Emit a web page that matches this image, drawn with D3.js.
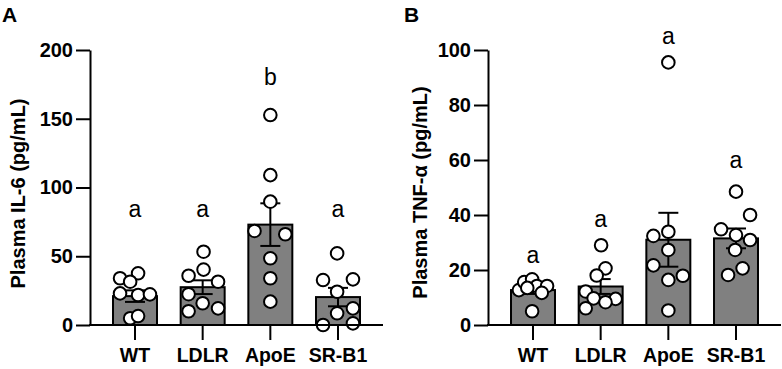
<!DOCTYPE html>
<html>
<head>
<meta charset="utf-8">
<script src="https://cdn.jsdelivr.net/npm/d3@7"></script>
<style>
  html, body { margin: 0; padding: 0; background: #fff; }
  svg { display: block; }
  text { font-family: "Liberation Sans", Arial, Helvetica, sans-serif; }
</style>
</head>
<body>
<script>
// ---------- DATA ----------
const categories = ["WT", "LDLR", "ApoE", "SR-B1"];

// Panel A: Plasma IL-6 (pg/mL)
const il6Means = [21, 27.5, 73, 20.3];
const il6Sem = [4.2, 5, 15.5, 6.7];
const il6Points = [
  [34, 37.6, 31.5, 23, 21.8, 22.3, 4.9, 6.5],
  [53.3, 40.3, 35.8, 31.5, 22.4, 15.8, 10, 12.1],
  [152.7, 109, 89.7, 68.4, 66, 48.5, 34, 17],
  [52.1, 32.7, 33.2, 24.2, 12.1, 8.5, 0, 1.2]
];
// horizontal spread of points, as a fraction of bar width
const il6Jitter = [
  [-0.34, 0.07, -0.11, -0.34, 0.07, 0.34, -0.11, 0.07],
  [0.02, 0.02, -0.32, 0.35, -0.32, 0, -0.32, 0.35],
  [0, 0, 0, -0.36, 0.34, 0, 0, 0],
  [-0.02, -0.34, 0.34, -0.02, 0.34, -0.02, -0.34, 0.34]
];
const il6Letters = ["a", "a", "b", "a"];
const il6LetterLevel = [78.5, 78.5, 174.5, 78.5];
const il6Ticks = [0, 50, 100, 150, 200];

// Panel B: Plasma TNF-α (pg/mL)
const tnfMeans = [12.7, 14, 31, 31.5];
const tnfSem = [1.4, 2.7, 9.8, 3.6];
const tnfPoints = [
  [12.7, 15.6, 16.6, 14.2, 14.2, 11.7, 5, 13.5],
  [29, 20.6, 18, 12.2, 9.7, 9.5, 8.3, 6.1],
  [95.5, 33.9, 32.4, 27.3, 21.7, 17.9, 16.4, 5.3],
  [48.5, 40, 34.8, 32.7, 30.9, 27.3, 20.6, 18.2]
];
const tnfJitter = [
  [-0.32, -0.2, -0.02, 0.09, 0.32, 0.2, -0.02, -0.13],
  [0.01, 0.11, -0.09, -0.34, -0.16, 0.34, 0.11, -0.34],
  [0, 0, -0.34, 0, -0.34, 0.33, 0, 0],
  [0, 0.32, -0.34, 0, 0.32, -0.02, 0.15, -0.18]
];
const tnfLetters = ["a", "a", "a", "a"];
const tnfLetterLevel = [22.5, 35.6, 102.2, 57.1];
const tnfTicks = [0, 20, 40, 60, 80, 100];

// ---------- DRAW ----------
const W = 782, H = 369;
const svg = d3.select("body").append("svg").attr("width", W).attr("height", H);

const BAR_FILL = "#808080";
const LW = 2;

function panel(opts) {
  const g = svg.append("g");
  const x = d3.scaleBand().domain(categories).range([opts.x0, opts.x1])
    .paddingInner(0.35).paddingOuter(0.34);
  const y = d3.scaleLinear().domain([0, opts.ymax]).range([325, 50]);
  const bw = x.bandwidth();

  // bars
  g.selectAll("rect.bar").data(categories).join("rect")
    .attr("x", d => x(d))
    .attr("y", (d, i) => y(opts.means[i]))
    .attr("width", bw)
    .attr("height", (d, i) => y(0) - y(opts.means[i]))
    .attr("fill", BAR_FILL).attr("stroke", "#000").attr("stroke-width", LW);

  // error bars
  const cap = 10;
  categories.forEach((c, i) => {
    const cx = x(c) + bw / 2;
    const lo = opts.means[i] - opts.sem[i], hi = opts.means[i] + opts.sem[i];
    g.append("line").attr("x1", cx).attr("x2", cx).attr("y1", y(lo)).attr("y2", y(hi))
      .attr("stroke", "#000").attr("stroke-width", LW);
    [lo, hi].forEach(v => {
      g.append("line").attr("x1", cx - cap).attr("x2", cx + cap).attr("y1", y(v)).attr("y2", y(v))
        .attr("stroke", "#000").attr("stroke-width", LW);
    });
  });

  // points
  categories.forEach((c, i) => {
    const cx = x(c) + bw / 2;
    g.selectAll(null).data(opts.points[i]).join("circle")
      .attr("cx", (d, j) => cx + opts.jitter[i][j] * bw)
      .attr("cy", d => y(d))
      .attr("r", 6.3)
      .attr("fill", "#fff").attr("stroke", "#000").attr("stroke-width", LW);
  });

  // y axis
  const yAxis = d3.axisLeft(y).tickValues(opts.ticks).tickSize(14).tickPadding(3).tickSizeOuter(0);
  const ya = g.append("g").attr("transform", `translate(${opts.x0},0)`).call(yAxis);
  ya.select(".domain").attr("stroke", "#000").attr("stroke-width", LW);
  ya.selectAll(".tick line").attr("stroke", "#000").attr("stroke-width", LW);
  ya.selectAll(".tick text").attr("font-size", 20).attr("font-weight", "bold")
    .attr("fill", "#000").attr("font-family", "Liberation Sans, Arial, sans-serif");

  // x axis
  const xAxis = d3.axisBottom(x).tickSize(15).tickPadding(8).tickSizeOuter(0);
  const xa = g.append("g").attr("transform", `translate(0,${y(0)})`).call(xAxis);
  xa.select(".domain").attr("stroke", "#000").attr("stroke-width", LW)
    .attr("d", `M${opts.x0 - 1},0H${opts.x1}`);
  xa.selectAll(".tick line").attr("stroke", "#000").attr("stroke-width", LW);
  xa.selectAll(".tick text").attr("font-size", 19.5).attr("font-weight", "bold")
    .attr("fill", "#000").attr("font-family", "Liberation Sans, Arial, sans-serif");

  // significance letters
  g.selectAll("text.sig").data(categories).join("text")
    .attr("class", "sig")
    .attr("x", d => x(d) + bw / 2)
    .attr("y", (d, i) => y(opts.letterLevel[i]))
    .attr("text-anchor", "middle")
    .attr("font-size", 23)
    .attr("fill", "#000")
    .text((d, i) => opts.letters[i]);

  // y title
  g.append("text")
    .attr("transform", `translate(${opts.titleX},${opts.titleY}) rotate(-90)`)
    .attr("text-anchor", "middle")
    .attr("font-size", 20).attr("font-weight", "bold").attr("fill", "#000")
    .text(opts.title);

  // panel label
  g.append("text").attr("x", opts.labelX).attr("y", 22)
    .attr("font-size", 21).attr("font-weight", "bold").attr("fill", "#000")
    .text(opts.label);
}

panel({
  x0: 90, x1: 383, ymax: 200,
  means: il6Means, sem: il6Sem, points: il6Points, jitter: il6Jitter,
  letters: il6Letters, letterLevel: il6LetterLevel, ticks: il6Ticks,
  title: "Plasma IL-6 (pg/mL)", titleX: 25, titleY: 193.5,
  label: "A", labelX: 2
});

panel({
  x0: 488, x1: 781, ymax: 100,
  means: tnfMeans, sem: tnfSem, points: tnfPoints, jitter: tnfJitter,
  letters: tnfLetters, letterLevel: tnfLetterLevel, ticks: tnfTicks,
  title: "Plasma TNF-α (pg/mL)", titleX: 427, titleY: 192.5,
  label: "B", labelX: 404
});
</script>
</body>
</html>
